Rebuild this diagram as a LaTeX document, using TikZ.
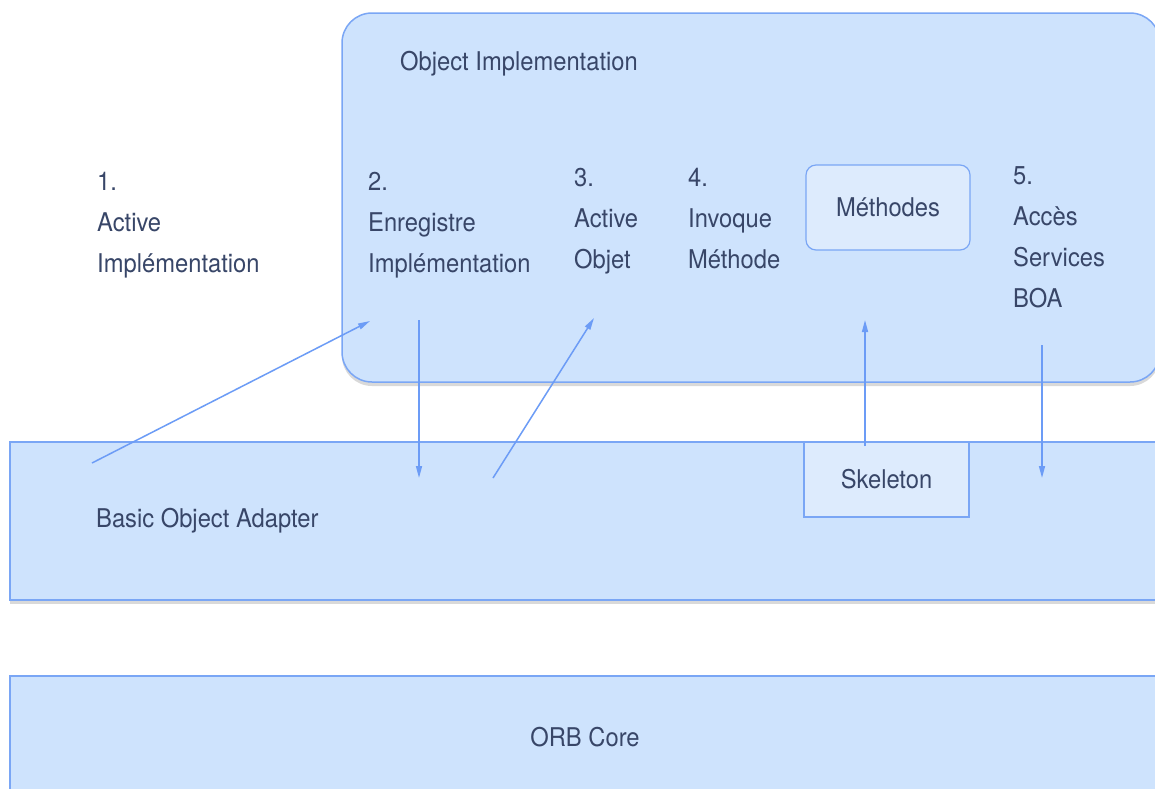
\documentclass[tikz,border=0pt]{standalone}
\usepackage{fontspec}
\setmainfont[FakeStretch=0.92]{TeX Gyre Heros}
\usetikzlibrary{arrows.meta,shadows}
\definecolor{boxfill}{RGB}{206,227,253}
\definecolor{boxline}{RGB}{122,166,245}
\definecolor{innerfill}{RGB}{221,235,253}
\definecolor{txt}{RGB}{56,70,104}
\definecolor{arrcol}{RGB}{108,156,246}
\begin{document}
\begin{tikzpicture}[x=1pt,y=-1pt,
  panel/.style={draw=boxline,fill=boxfill,line width=1.5pt,inner sep=0pt,
    drop shadow={shadow xshift=0pt,shadow yshift=-4pt,opacity=0.15,fill=black}},
  inbox/.style={draw=boxline,fill=innerfill,line width=1.2pt,inner sep=0pt,text=txt,
    font=\fontsize{25.8}{41}\selectfont},
  lbl/.style={text=txt,inner sep=0pt,align=left,font=\fontsize{25.8}{41}\selectfont},
  arr/.style={draw=arrcol,line width=1.5pt,-{Triangle[length=12pt,width=6pt]}}]
\useasboundingbox (0,0) rectangle (1155,788);
\clip (0,0) rectangle (1155,788);
\fill[white] (0,0) rectangle (1155,788);
% panels
\node[panel,rounded corners=30pt,minimum width=818pt,minimum height=369pt] (oi) at (751,197.5) {};
\node[panel,minimum width=1150pt,minimum height=158pt] (boa) at (585,521) {};
\node[panel,minimum width=1150pt,minimum height=122pt,text=txt,font=\fontsize{25.8}{41}\selectfont] (orb) at (585,737) {ORB Core};
% inner boxes
\node[inbox,rounded corners=10pt,minimum width=164pt,minimum height=85pt] (meth) at (888,207.5) {Méthodes};
\node[inbox,minimum width=165pt,minimum height=75pt] (skel) at (886.5,479.5) {Skeleton};
% labels
\node[lbl,anchor=north west] (oil) at (400,51) {Object Implementation};
\node[lbl,anchor=west] (boal) at (96,521) {Basic Object Adapter};
\node[lbl,anchor=north west] (l1) at (97,172) {1.\\Active\\Implémentation};
\node[lbl,anchor=north west] (l2) at (368,172) {2.\\Enregistre\\Implémentation};
\node[lbl,anchor=north west] (l3) at (574,168) {3.\\Active\\Objet};
\node[lbl,anchor=north west] (l4) at (688,168) {4.\\Invoque\\Méthode};
\node[lbl,anchor=north west] (l5) at (1013,166) {5.\\Accès\\Services\\BOA};
% arrow end points
\coordinate (a1s) at (92,463);  \coordinate (a1e) at (370,321);
\coordinate (a2s) at (419,320); \coordinate (a2e) at (419,478);
\coordinate (a3s) at (493,478); \coordinate (a3e) at (594,318);
\coordinate (a4s) at (865,446); \coordinate (a4e) at (865,320);
\coordinate (a5s) at (1042,345); \coordinate (a5e) at (1042,478);
\draw[arr] (a1s) -- (a1e);
\draw[arr] (a2s) -- (a2e);
\draw[arr] (a3s) -- (a3e);
\draw[arr] (a4s) -- (a4e);
\draw[arr] (a5s) -- (a5e);
\end{tikzpicture}
\end{document}
